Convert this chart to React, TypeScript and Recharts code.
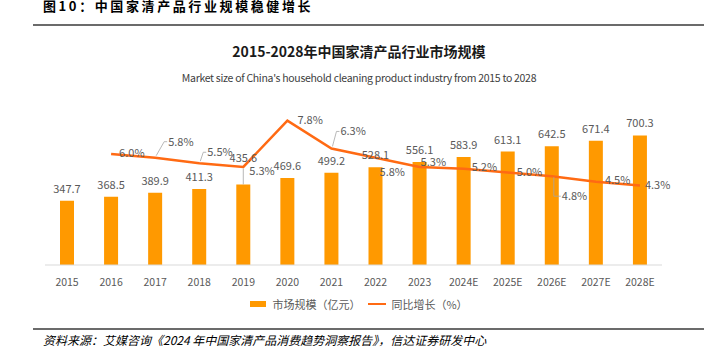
import { ComposedChart, Bar, Line, XAxis, YAxis, LabelList } from 'recharts';

const years = ['2015', '2016', '2017', '2018', '2019', '2020', '2021', '2022', '2023', '2024E', '2025E', '2026E', '2027E', '2028E'];
const marketSize = [347.7, 368.5, 389.9, 411.3, 435.6, 469.6, 499.2, 528.1, 556.1, 583.9, 613.1, 642.5, 671.4, 700.3];
const yoyGrowth = [null, 6.0, 5.8, 5.5, 5.3, 7.8, 6.3, 5.8, 5.3, 5.2, 5.0, 4.8, 4.5, 4.3];

// label placement tweaks (text start dx, center dy, leader line?)
const growthLabelPos: [number, number, boolean][] = [
  [0, 0, false], [8, -1, false], [13, -16, true], [8, -11, true], [6, 4, false], [10, -1, false],
  [9, -17, true], [4, 14, false], [1, -5, false], [8, -2, false], [9, -1, false], [10, 20, true],
  [9, -2, false], [5, 0, false],
];

const BAR = '#ff9900';
const LINE = '#ff6a13';
const TXT = '#595959';
const FONT = '"Noto Sans CJK SC", "Noto Sans", sans-serif';

const data = years.map((y, i) => ({ year: y, size: marketSize[i], yoy: yoyGrowth[i] }));

const BarLabel = (props: any) => {
  const { x, y, width, value, index } = props;
  const cx = x + width / 2;
  const lift = index === 4 ? 14 : 0;
  return (
    <g>
      {lift > 0 && <line x1={cx} x2={cx} y1={y - lift - 2} y2={y} stroke="#a6a6a6" strokeWidth={0.8} />}
      <text x={cx} y={y - 8 - lift} textAnchor="middle" fontSize={11} fill={TXT} fontFamily={FONT}>
        {value.toFixed(1)}
      </text>
    </g>
  );
};

const GrowthLabel = (props: any) => {
  const { x, y, value, index } = props;
  if (value == null) return null;
  const [dx, dy, leader] = growthLabelPos[index];
  const tx = x + dx;
  const ty = y + dy;
  return (
    <g>
      {leader && (
        <polyline
          points={dy < 0 ? `${x + 1},${y - 2} ${tx - 4},${ty} ${tx - 1},${ty}` : `${x + 2},${y + 1} ${x + 2},${ty} ${tx - 1},${ty}`}
          fill="none"
          stroke="#a6a6a6"
          strokeWidth={0.8}
        />
      )}
      <text x={tx} y={ty + 4} fontSize={11} fill={TXT} fontFamily={FONT}>
        {value.toFixed(1)}%
      </text>
    </g>
  );
};

const LegendBox = () => (
  <div style={{ position: 'absolute', top: 296, left: 0, width: 718, display: 'flex', justifyContent: 'center', alignItems: 'center', fontSize: 11, color: TXT, fontFamily: FONT }}>
    <span style={{ display: 'inline-block', width: 16, height: 6, background: BAR, marginRight: 6 }} />
    <span style={{ marginRight: 8 }}>市场规模（亿元）</span>
    <span style={{ display: 'inline-block', width: 18, height: 2, background: LINE, marginRight: 5 }} />
    <span>同比增长（%）</span>
  </div>
);

export default function App() {
  return (
    <div style={{ position: 'absolute', top: 0, left: 0, width: 718, height: 355, background: '#fff', overflow: 'hidden', fontFamily: FONT }}>
      <div style={{ position: 'absolute', top: -4, left: 43, fontSize: 13, fontWeight: 'bold', fontFamily: '"Noto Sans CJK SC", serif', color: '#000', letterSpacing: 2.6 }}>
        图10：中国家清产品行业规模稳健增长
      </div>
      <div style={{ position: 'absolute', top: 24, left: 33, width: 671, height: 2, background: '#6b6b6b' }} />

      <div style={{ position: 'absolute', top: 41, left: 0, width: 718, textAlign: 'center', fontSize: 14, fontWeight: 'bold', color: '#1a1a1a' }}>
        2015-2028年中国家清产品行业市场规模
      </div>
      <div style={{ position: 'absolute', top: 70, left: 0, width: 718, textAlign: 'center', fontSize: 10.5, color: '#404040', letterSpacing: -0.3 }}>
        Market size of China's household cleaning product industry from 2015 to 2028
      </div>

      <div style={{ position: 'absolute', top: 0, left: 0 }}>
        <ComposedChart width={718} height={355} data={data} margin={{ top: 80, right: 56, bottom: 60, left: 45 }}>
          <XAxis
            dataKey="year"
            tickLine={false}
            axisLine={{ stroke: '#d9d9d9' }}
            tick={{ fontSize: 10.5, fill: TXT, fontFamily: FONT }}
            height={30}
            tickMargin={8}
          />
          <YAxis yAxisId="left" hide domain={[0, 1000]} />
          <YAxis yAxisId="right" hide orientation="right" domain={[0, 10]} />
          <Bar yAxisId="left" dataKey="size" fill={BAR} barSize={14} isAnimationActive={false}>
            <LabelList dataKey="size" content={BarLabel} />
          </Bar>
          <Line yAxisId="right" dataKey="yoy" stroke={LINE} strokeWidth={2.5} dot={false} connectNulls isAnimationActive={false}>
            <LabelList dataKey="yoy" content={GrowthLabel} />
          </Line>
        </ComposedChart>
      </div>

      <LegendBox />

      <div style={{ position: 'absolute', top: 328, left: 33, width: 671, height: 2, background: '#6b6b6b' }} />
      <div style={{ position: 'absolute', top: 331, left: 43, fontSize: 12, fontStyle: 'italic', color: '#000', fontFamily: '"Noto Sans CJK SC", serif' }}>
        资料来源：艾媒咨询《2024 年中国家清产品消费趋势洞察报告》，信达证券研发中心
      </div>
    </div>
  );
}
